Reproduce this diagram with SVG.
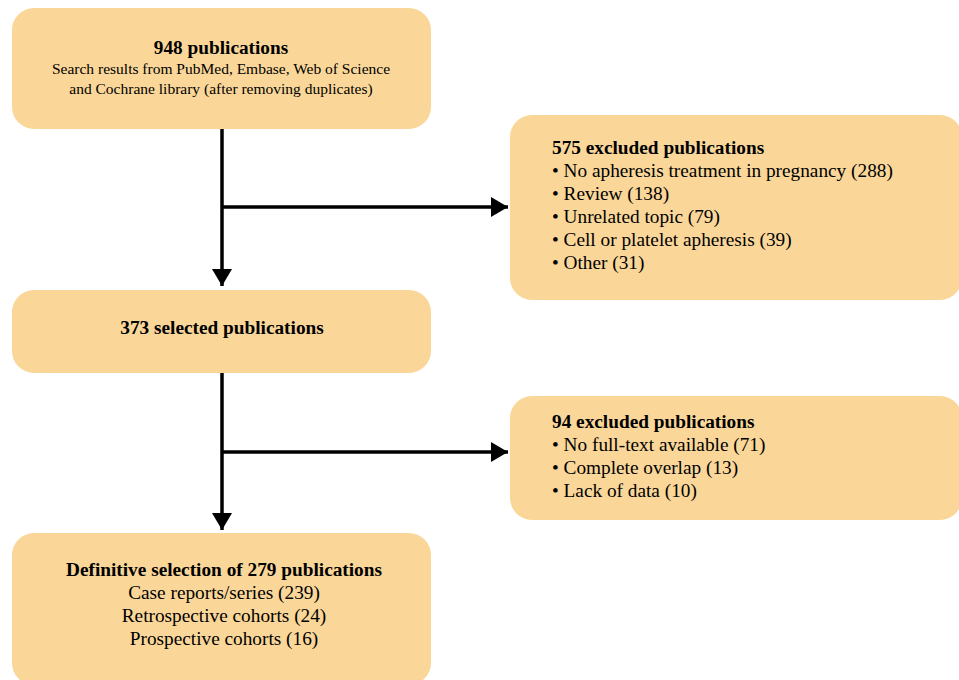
<svg xmlns="http://www.w3.org/2000/svg" width="959" height="680" viewBox="0 0 959 680">
<defs>
<style>
.box{fill:#FAD799;}
.t{font-family:"Liberation Serif","Times New Roman",serif;fill:#000;}
.b{font-weight:bold;font-size:19.3px;}
.n{font-size:19.3px;}
.s{font-size:15.5px;}
.c{text-anchor:middle;}
.ln{stroke:#000;stroke-width:3.5;fill:none;}
</style>
<marker id="ah" markerUnits="userSpaceOnUse" markerWidth="20" markerHeight="20" refX="17" refY="10" orient="auto">
<path d="M0,0 L17,10 L0,20 Z" fill="#000"/>
</marker>
</defs>
<rect width="959" height="680" fill="#fff"/>
<g id="connectors">
<line class="ln" x1="222" y1="128" x2="222" y2="286" marker-end="url(#ah)"/>
<line class="ln" x1="222" y1="207" x2="508" y2="207" marker-end="url(#ah)"/>
<line class="ln" x1="222" y1="372" x2="222" y2="530" marker-end="url(#ah)"/>
<line class="ln" x1="222" y1="452" x2="508" y2="452" marker-end="url(#ah)"/>
</g>
<g id="n948">
<rect class="box" x="12" y="8" width="419" height="121" rx="22"/>
<text class="t b c" x="221" y="54">948 publications</text>
<text class="t s c" x="221" y="74">Search results from PubMed, Embase, Web of Science</text>
<text class="t s c" x="221" y="94">and Cochrane library (after removing duplicates)</text>
</g>
<g id="n575">
<rect class="box" x="510" y="115" width="452" height="185" rx="22"/>
<text class="t b" x="552" y="154">575 excluded publications</text>
<text class="t n" x="552" y="177">• No apheresis treatment in pregnancy (288)</text>
<text class="t n" x="552" y="200">• Review (138)</text>
<text class="t n" x="552" y="223">• Unrelated topic (79)</text>
<text class="t n" x="552" y="246">• Cell or platelet apheresis (39)</text>
<text class="t n" x="552" y="269">• Other (31)</text>
</g>
<g id="n373">
<rect class="box" x="12" y="290" width="419" height="83" rx="22"/>
<text class="t b c" x="222" y="334">373 selected publications</text>
</g>
<g id="n94">
<rect class="box" x="510" y="396" width="452" height="124" rx="22"/>
<text class="t b" x="552" y="428">94 excluded publications</text>
<text class="t n" x="552" y="451">• No full-text available (71)</text>
<text class="t n" x="552" y="474">• Complete overlap (13)</text>
<text class="t n" x="552" y="497">• Lack of data (10)</text>
</g>
<g id="n279">
<rect class="box" x="12" y="533" width="419" height="152" rx="22"/>
<text class="t b c" x="224" y="576">Definitive selection of 279 publications</text>
<text class="t n c" x="224" y="599">Case reports/series (239)</text>
<text class="t n c" x="224" y="622">Retrospective cohorts (24)</text>
<text class="t n c" x="224" y="645">Prospective cohorts (16)</text>
</g>
</svg>
